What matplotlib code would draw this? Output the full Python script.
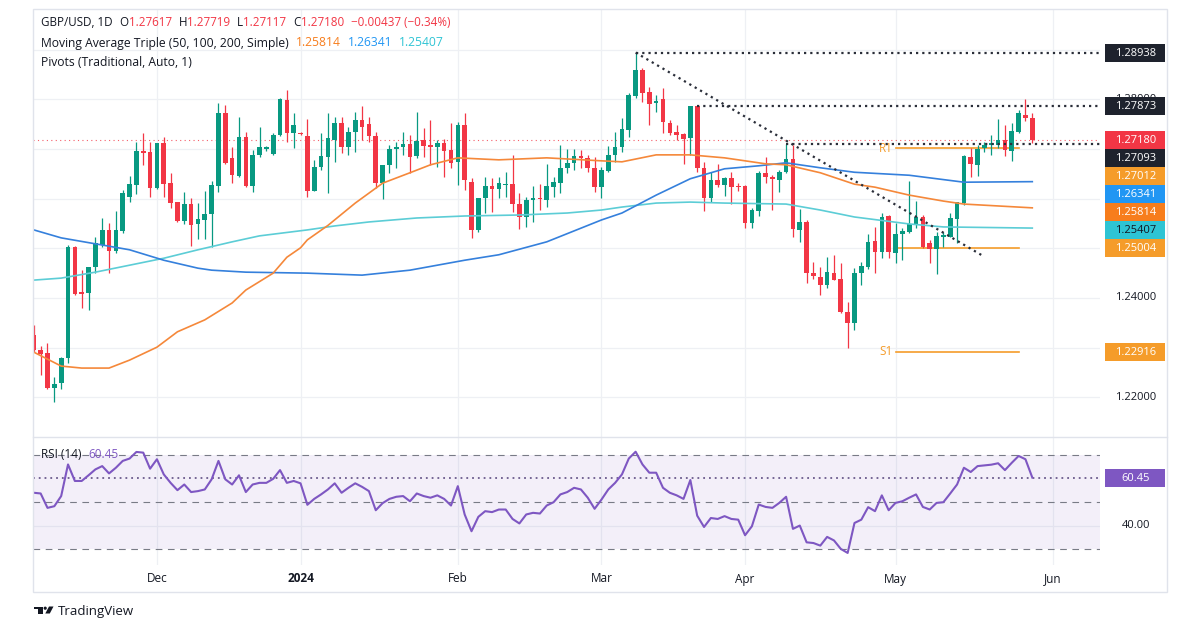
import matplotlib
matplotlib.use("Agg")
import matplotlib.pyplot as plt
from matplotlib.patches import Rectangle, Polygon, Ellipse
from matplotlib.transforms import blended_transform_factory as blend
import numpy as np
import pandas as pd

plt.rcParams['font.family'] = ['Open Sans', 'DejaVu Sans']

# ---------------------------------------------------------------- data
dates = pd.bdate_range("2023-11-07", "2024-05-29")   # 147 daily bars

opens = [1.2325, 1.2295, 1.2289, 1.2219, 1.2229, 1.2279, 1.2503, 1.2412, 1.2410, 1.2463,
         1.2507, 1.2537, 1.2495, 1.2535, 1.2603, 1.2627, 1.2696, 1.2694, 1.2621, 1.2712,
         1.2631, 1.2593, 1.2555, 1.2589, 1.2549, 1.2557, 1.2569, 1.2625, 1.2772, 1.2682,
         1.2645, 1.2724, 1.2625, 1.2688, 1.2700, 1.2690, 1.2728, 1.2798, 1.2732, 1.2732,
         1.2726, 1.2615, 1.2664, 1.2684, 1.2718, 1.2752, 1.2704, 1.2734, 1.2758, 1.2750,
         1.2726, 1.2631, 1.2668, 1.2700, 1.2704, 1.2710, 1.2686, 1.2718, 1.2708, 1.2704,
         1.2712, 1.2698, 1.2674, 1.2748, 1.2633, 1.2537, 1.2601, 1.2625, 1.2619, 1.2627,
         1.2629, 1.2589, 1.2563, 1.2597, 1.2601, 1.2597, 1.2623, 1.2631, 1.2662, 1.2672,
         1.2686, 1.2682, 1.2662, 1.2623, 1.2656, 1.2688, 1.2704, 1.2738, 1.2806, 1.2858,
         1.2814, 1.2792, 1.2800, 1.2752, 1.2734, 1.2730, 1.2722, 1.2786, 1.2662, 1.2601,
         1.2637, 1.2627, 1.2641, 1.2625, 1.2625, 1.2551, 1.2575, 1.2651, 1.2643, 1.2637,
         1.2654, 1.2680, 1.2537, 1.2553, 1.2450, 1.2442, 1.2426, 1.2450, 1.2438, 1.2372,
         1.2349, 1.2450, 1.2463, 1.2515, 1.2493, 1.2565, 1.2491, 1.2529, 1.2533, 1.2547,
         1.2563, 1.2511, 1.2499, 1.2523, 1.2523, 1.2559, 1.2591, 1.2684, 1.2668, 1.2702,
         1.2708, 1.2708, 1.2718, 1.2696, 1.2734, 1.2768, 1.27617]
highs = [1.2345, 1.2303, 1.2309, 1.2241, 1.2281, 1.2507, 1.2505, 1.2457, 1.2463, 1.2523,
         1.2561, 1.2551, 1.2575, 1.2617, 1.2645, 1.2714, 1.2732, 1.2714, 1.2712, 1.2724,
         1.2651, 1.2593, 1.2613, 1.2601, 1.2591, 1.2615, 1.2635, 1.2792, 1.2788, 1.2704,
         1.2764, 1.2734, 1.2698, 1.2744, 1.2706, 1.2732, 1.2802, 1.2818, 1.2772, 1.2734,
         1.2760, 1.2678, 1.2732, 1.2772, 1.2764, 1.2764, 1.2744, 1.2774, 1.2786, 1.2764,
         1.2734, 1.2668, 1.2708, 1.2714, 1.2734, 1.2728, 1.2774, 1.2742, 1.2758, 1.2718,
         1.2720, 1.2752, 1.2754, 1.2772, 1.2641, 1.2601, 1.2643, 1.2641, 1.2643, 1.2654,
         1.2688, 1.2611, 1.2603, 1.2625, 1.2629, 1.2670, 1.2643, 1.2708, 1.2700, 1.2700,
         1.2698, 1.2688, 1.2684, 1.2664, 1.2706, 1.2734, 1.2762, 1.2812, 1.28938, 1.2862,
         1.2824, 1.2808, 1.2822, 1.2758, 1.2748, 1.2732, 1.2786, 1.27873, 1.2674, 1.2654,
         1.2670, 1.2643, 1.2654, 1.2631, 1.2627, 1.2581, 1.2656, 1.2684, 1.2647, 1.2658,
         1.27093, 1.2708, 1.2579, 1.2557, 1.2473, 1.2463, 1.2483, 1.2487, 1.2471, 1.2392,
         1.2461, 1.2473, 1.2529, 1.2543, 1.2571, 1.2568, 1.2551, 1.2541, 1.2635, 1.2595,
         1.2567, 1.2517, 1.2533, 1.2533, 1.2571, 1.2593, 1.2688, 1.2702, 1.2708, 1.2714,
         1.2728, 1.2760, 1.2748, 1.2752, 1.2778, 1.2800, 1.27719]
lows = [1.2291, 1.2245, 1.2217, 1.2191, 1.2217, 1.2269, 1.2406, 1.2380, 1.2376, 1.2450,
        1.2503, 1.2450, 1.2491, 1.2531, 1.2593, 1.2609, 1.2668, 1.2603, 1.2619, 1.2603,
        1.2581, 1.2553, 1.2549, 1.2505, 1.2519, 1.2519, 1.2503, 1.2613, 1.2670, 1.2631,
        1.2643, 1.2623, 1.2613, 1.2684, 1.2696, 1.2688, 1.2726, 1.2714, 1.2702, 1.2728,
        1.2603, 1.2615, 1.2658, 1.2611, 1.2674, 1.2692, 1.2688, 1.2694, 1.2718, 1.2714,
        1.2621, 1.2599, 1.2651, 1.2662, 1.2688, 1.2651, 1.2682, 1.2684, 1.2668, 1.2664,
        1.2643, 1.2662, 1.2627, 1.2617, 1.2521, 1.2533, 1.2571, 1.2573, 1.2601, 1.2603,
        1.2573, 1.2539, 1.2543, 1.2553, 1.2577, 1.2583, 1.2603, 1.2611, 1.2651, 1.2658,
        1.2662, 1.2654, 1.2613, 1.2601, 1.2654, 1.2674, 1.2694, 1.2724, 1.2802, 1.2794,
        1.2748, 1.2774, 1.2732, 1.2728, 1.2718, 1.2670, 1.2688, 1.2654, 1.2575, 1.2593,
        1.2623, 1.2605, 1.2589, 1.2615, 1.2541, 1.2541, 1.2565, 1.2631, 1.2577, 1.2613,
        1.2651, 1.2523, 1.2513, 1.2430, 1.2438, 1.2406, 1.2420, 1.2436, 1.2370, 1.2300,
        1.2335, 1.2426, 1.2459, 1.2450, 1.2481, 1.2481, 1.2471, 1.2477, 1.2531, 1.2541,
        1.2500, 1.2471, 1.2448, 1.2503, 1.2523, 1.2511, 1.2587, 1.2643, 1.2645, 1.2694,
        1.2688, 1.2702, 1.2686, 1.2676, 1.2732, 1.2756, 1.27117]
closes = [1.2295, 1.2287, 1.2219, 1.2227, 1.2279, 1.2503, 1.2408, 1.2408, 1.2463, 1.2511,
          1.2537, 1.2495, 1.2537, 1.2611, 1.2629, 1.2696, 1.2692, 1.2621, 1.2712, 1.2629,
          1.2591, 1.2555, 1.2589, 1.2547, 1.2559, 1.2569, 1.2627, 1.2772, 1.2672, 1.2647,
          1.2724, 1.2625, 1.2688, 1.2704, 1.2704, 1.2728, 1.2800, 1.2732, 1.2748, 1.2730,
          1.2615, 1.2664, 1.2686, 1.2722, 1.2752, 1.2704, 1.2734, 1.2758, 1.2744, 1.2726,
          1.2631, 1.2668, 1.2700, 1.2704, 1.2710, 1.2684, 1.2716, 1.2706, 1.2704, 1.2712,
          1.2696, 1.2672, 1.2748, 1.2637, 1.2537, 1.2601, 1.2625, 1.2619, 1.2631, 1.2629,
          1.2589, 1.2563, 1.2597, 1.2601, 1.2599, 1.2625, 1.2633, 1.2662, 1.2672, 1.2686,
          1.2682, 1.2662, 1.2623, 1.2658, 1.2688, 1.2704, 1.2740, 1.2808, 1.2858, 1.2812,
          1.2790, 1.2796, 1.2754, 1.2732, 1.2728, 1.2720, 1.2786, 1.2662, 1.2601, 1.2637,
          1.2627, 1.2641, 1.2623, 1.2623, 1.2551, 1.2577, 1.2651, 1.2643, 1.2639, 1.2654,
          1.2680, 1.2539, 1.2553, 1.2450, 1.2444, 1.2426, 1.2453, 1.2436, 1.2372, 1.2349,
          1.2450, 1.2465, 1.2513, 1.2493, 1.2563, 1.2493, 1.2529, 1.2535, 1.2549, 1.2563,
          1.2503, 1.2499, 1.2525, 1.2527, 1.2561, 1.2593, 1.2686, 1.2670, 1.2700, 1.2708,
          1.2712, 1.2718, 1.2698, 1.2736, 1.2772, 1.2762, 1.27180]

rsi_values = [54.0, 53.7, 47.6, 48.3, 52.6, 66.0, 59.0, 59.0, 61.4, 63.9,
              65.3, 62.2, 64.6, 67.5, 68.5, 71.3, 71.0, 64.2, 68.2, 61.8,
              58.2, 55.1, 57.5, 54.3, 54.7, 55.4, 59.7, 67.5, 59.7, 57.5,
              61.4, 54.3, 57.5, 58.2, 58.2, 59.9, 63.6, 58.2, 59.0, 58.0,
              48.9, 51.4, 53.3, 55.4, 58.0, 54.0, 56.1, 58.0, 56.5, 54.7,
              46.6, 49.6, 51.4, 52.3, 52.6, 50.4, 53.7, 52.6, 51.9, 52.9,
              51.4, 48.6, 56.8, 44.8, 37.7, 43.8, 46.2, 45.8, 46.9, 46.9,
              42.9, 41.0, 44.8, 45.5, 45.2, 48.6, 50.0, 53.3, 54.3, 56.1,
              55.4, 51.9, 47.2, 51.1, 55.4, 58.2, 61.8, 68.5, 71.4, 66.0,
              62.5, 62.5, 56.1, 54.0, 52.9, 51.4, 59.4, 44.3, 39.5, 43.3,
              42.9, 44.1, 42.9, 42.6, 36.0, 39.8, 49.0, 48.0, 47.6, 49.7,
              52.3, 38.7, 40.1, 33.0, 32.7, 31.6, 35.3, 33.8, 30.2, 28.5,
              41.2, 42.6, 47.9, 46.2, 52.9, 46.6, 49.7, 50.4, 51.9, 53.3,
              48.0, 46.9, 49.7, 50.0, 53.7, 57.5, 64.6, 62.8, 65.3, 65.6,
              65.9, 66.5, 63.6, 66.7, 69.6, 68.2, 60.45]

# moving averages at sample bars
sma50_bars = [0, 4, 7, 11, 14, 18, 21, 25, 29, 31, 35, 37, 39, 40, 43, 47, 51, 55, 58, 62,
              68, 75, 83, 86, 91, 96, 101, 107, 110, 115, 120, 123, 128, 133, 136, 146]
sma50_vals = [1.2291, 1.2263, 1.2259, 1.2259, 1.2275, 1.2301, 1.2332, 1.2356, 1.2390, 1.2416,
              1.2450, 1.2482, 1.2501, 1.2517, 1.2546, 1.2591, 1.2631, 1.2652, 1.2668, 1.2682,
              1.2678, 1.2682, 1.2676, 1.2674, 1.2688, 1.2688, 1.2682, 1.2670, 1.2668, 1.2652,
              1.2629, 1.2623, 1.2607, 1.2595, 1.2589, 1.25814]
sma100_bars = [0, 4, 9, 14, 19, 24, 26, 31, 40, 48, 55, 63, 68, 75, 83, 86, 91, 96, 101,
               106, 110, 115, 120, 128, 136, 146]
sma100_vals = [1.2537, 1.2521, 1.2509, 1.2497, 1.2476, 1.2460, 1.2456, 1.2452, 1.2450, 1.2446,
               1.2456, 1.2476, 1.2487, 1.2513, 1.2557, 1.2571, 1.2607, 1.2640, 1.2660,
               1.2666, 1.2672, 1.2662, 1.2653, 1.2647, 1.2633, 1.26341]
sma200_bars = [0, 4, 9, 14, 19, 24, 29, 33, 40, 44, 49, 56, 63, 71, 78, 83, 86, 91, 96,
               101, 110, 115, 120, 128, 133, 146]
sma200_vals = [1.2436, 1.2440, 1.2452, 1.2466, 1.2480, 1.2497, 1.2513, 1.2525, 1.2537, 1.2545,
               1.2553, 1.2561, 1.2565, 1.2567, 1.2571, 1.2577, 1.2583, 1.2591, 1.2593,
               1.2591, 1.2589, 1.2577, 1.2563, 1.2549, 1.2543, 1.25407]

trend_bars = [88, 139]
trend_vals = [1.28938, 1.2483]
level_vals = [1.28938, 1.27873, 1.27093]
level_start = [88, 97, 110]
pivot_names = ["R1", "P", "S1"]
pivot_vals = [1.27012, 1.25004, 1.22916]
pivot_span = [126, 144]

header_ohlc = ["1.27617", "1.27719", "1.27117", "1.27180"]
header_change = "\u22120.00437 (\u22120.34%)"
ma_last = [1.25814, 1.26341, 1.25407]
rsi_last = 60.45
last_close = 1.27180
month_labels = ["Dec", "2024", "Feb", "Mar", "Apr", "May", "Jun"]
price_grid = [1.22, 1.23, 1.24, 1.25, 1.26, 1.27, 1.28, 1.29]
price_labels = [1.22, 1.24, 1.28]       # the other scale labels sit under badges
rsi_labels = [40]

# ---------------------------------------------------------------- style
W, H = 1200, 630
GREEN, RED, DARK = "#089981", "#f23645", "#131722"
GRID = "#eef0f4"
C50, C100, C200 = "#f5883a", "#3580dc", "#5ccdd6"
B50, B100, B200 = "#f77d1c", "#2196f3", "#2ec4d4"
PIV = "#f59c2a"
PURPLE = "#7e57c2"
BADGE_DARK = "#1e222d"
DOTS = "#2a2e39"


def fx(x):
    return x / W


def fy(y):
    return 1 - y / H


fig = plt.figure(figsize=(12, 6.3), dpi=100)
fig.patch.set_facecolor("white")

ax = fig.add_axes([fx(33), fy(437), (1100 - 33) / W, (437 - 10) / H])
axr = fig.add_axes([fx(33), fy(565), (1100 - 33) / W, (565 - 437) / H])
XMIN, XMAX = -0.12, 155.9
ax.set_xlim(XMIN, XMAX)
ax.set_ylim(1.21203, 1.29795)
axr.set_xlim(XMIN, XMAX)
axr.set_ylim(23.39, 77.63)
ax.axis("off")
axr.axis("off")

# month grid
axis_days = pd.bdate_range(dates[0], "2024-06-28")
month_pos = [k for k in range(1, len(axis_days)) if axis_days[k].month != axis_days[k - 1].month][:len(month_labels)]
for m in month_pos:
    ax.axvline(m, color=GRID, lw=0.9, zorder=0)
    axr.axvline(m, color=GRID, lw=0.9, zorder=0)
for p in price_grid:
    ax.axhline(p, color=GRID, lw=0.9, zorder=0)
axr.axhline(40, color=GRID, lw=0.9, zorder=0)

# candles
x = np.arange(len(dates))
o, h, l, c = (np.array(v) for v in (opens, highs, lows, closes))
cols = np.where(c >= o, GREEN, RED)
ax.vlines(x, l, h, colors=cols, lw=0.9, zorder=4)
ax.bar(x, np.maximum(np.abs(c - o), 0.0002), bottom=np.minimum(o, c), width=0.68,
       color=cols, lw=0, zorder=5)

# moving averages
ax.plot(sma200_bars, sma200_vals, color=C200, lw=1.2, zorder=6)
ax.plot(sma100_bars, sma100_vals, color=C100, lw=1.2, zorder=6)
ax.plot(sma50_bars, sma50_vals, color=C50, lw=1.2, zorder=6)

# current price line
ax.plot([XMIN, XMAX], [last_close, last_close], color=RED, lw=0.8, ls=(0, (1, 3)), alpha=0.8, zorder=3)

# drawn levels and trendline
for v, s in zip(level_vals, level_start):
    ax.plot([s, XMAX], [v, v], color=DOTS, lw=1.6, ls=(0, (1, 1.8)), zorder=7)
ax.plot(trend_bars, trend_vals, color=DOTS, lw=1.6, ls=(0, (1, 1.8)), zorder=7)

# pivots
for name, v in zip(pivot_names, pivot_vals):
    ax.plot(pivot_span, [v, v], color=PIV, lw=1.2, zorder=3)
    if name != "P":
        ax.text(pivot_span[0] - 0.35, v, name, color=PIV, fontsize=8.5, ha="right", va="center", zorder=3)

# RSI
axr.axhspan(30, 70, color=PURPLE, alpha=0.09, lw=0, zorder=0)
for lvl in (70, 50, 30):
    axr.axhline(lvl, color="#787b86", lw=0.8, ls=(0, (6, 5)), zorder=1)
axr.plot([XMIN, XMAX], [rsi_last, rsi_last], color="#6a5a8c", lw=1.3, ls=(0, (1, 2.2)), zorder=2)
axr.plot(x, rsi_values, color=PURPLE, lw=1.5, zorder=3)

# price-scale labels (under the badges)
tr_price = blend(fig.transFigure, ax.transData)
for p in price_labels:
    ax.text(fx(1136), p, f"{p:.5f}", transform=tr_price, ha="center", va="center",
            fontsize=8, color=DARK, clip_on=False)
tr_rsi = blend(fig.transFigure, axr.transData)
for r in rsi_labels:
    axr.text(fx(1136), r, f"{r:.2f}", transform=tr_rsi, ha="center", va="center",
             fontsize=8, color=DARK, clip_on=False)

# badges on the price scale
fig.canvas.draw()


def px_from_top(axes, val):
    return H - axes.transData.transform((0, val))[1]


badges = [
    (1.28938, BADGE_DARK, "white"),
    (1.27873, BADGE_DARK, "white"),
    (last_close, RED, "white"),
    (level_vals[2], BADGE_DARK, "white"),
    (pivot_vals[0], PIV, "white"),
    (ma_last[1], B100, "white"),
    (ma_last[0], B50, "white"),
    (ma_last[2], B200, DARK),
    (pivot_vals[1], PIV, "white"),
    (pivot_vals[2], PIV, "white"),
]
badges.sort(key=lambda b: -b[0])
prev = None
BH = 18
for val, fc, tc in badges:
    yc = px_from_top(ax, val)
    if prev is not None and yc < prev + BH:
        yc = prev + BH
    prev = yc
    fig.add_artist(Rectangle((fx(1105), fy(yc + BH / 2)), 60 / W, BH / H,
                             transform=fig.transFigure, facecolor=fc, edgecolor="none", zorder=5))
    fig.text(fx(1136), fy(yc + 0.5), f"{val:.5f}", color=tc, fontsize=8, ha="center", va="center", zorder=6)

yr = px_from_top(axr, rsi_last)
fig.add_artist(Rectangle((fx(1105), fy(yr + BH / 2)), 60 / W, BH / H, transform=fig.transFigure,
                         facecolor=PURPLE, edgecolor="none", zorder=5))
fig.text(fx(1136), fy(yr + 0.5), f"{rsi_last:.2f}", color="white", fontsize=8, ha="center", va="center", zorder=6)

# date labels
tr_date = blend(axr.transData, fig.transFigure)
for m, lab in zip(month_pos, month_labels):
    axr.text(m, fy(579), lab, transform=tr_date, ha="center", va="center", fontsize=8.5,
             color=DARK, fontweight="bold" if lab.isdigit() else "normal", clip_on=False)

# legend / header lines
renderer = fig.canvas.get_renderer()


def seg_line(x0, y0, segs, fs=8.7):
    xx = x0
    for txt, color, gap in segs:
        xx += gap
        t = fig.text(fx(xx), fy(y0), txt, color=color, fontsize=fs, ha="left", va="center", zorder=6)
        xx += t.get_window_extent(renderer).width


seg_line(41, 23, [("GBP/USD, 1D", DARK, 0),
                  ("O", DARK, 7), (header_ohlc[0], RED, 0),
                  ("H", DARK, 7), (header_ohlc[1], RED, 0),
                  ("L", DARK, 7), (header_ohlc[2], RED, 0),
                  ("C", DARK, 7), (header_ohlc[3], RED, 0),
                  (header_change, RED, 7)], fs=8.4)
seg_line(41, 43, [("Moving Average Triple (50, 100, 200, Simple)", DARK, 0),
                  (f"{ma_last[0]:.5f}", B50, 7),
                  (f"{ma_last[1]:.5f}", B100, 7),
                  (f"{ma_last[2]:.5f}", B200, 7)])
seg_line(41, 62, [("Pivots (Traditional, Auto, 1)", DARK, 0)])
seg_line(41, 455, [("RSI (14)", DARK, 0), (f"{rsi_last:.2f}", PURPLE, 7)], fs=8.5)

# frame and pane separator
fig.add_artist(Rectangle((fx(33), fy(592)), (1167 - 33) / W, (592 - 9) / H, transform=fig.transFigure,
                         facecolor="none", edgecolor="#e0e3eb", lw=1, zorder=8))
fig.add_artist(plt.Line2D([fx(33), fx(1167)], [fy(437), fy(437)], transform=fig.transFigure,
                          color="#e0e3eb", lw=1, zorder=8))

# TradingView logo
logo = DARK
fig.add_artist(Polygon([(fx(33.5), fy(606.5)), (fx(42.5), fy(606.5)), (fx(42.5), fy(613.5)),
                        (fx(38.3), fy(613.5)), (fx(38.3), fy(609.3)), (fx(33.5), fy(609.3))],
                       closed=True, transform=fig.transFigure, facecolor=logo, edgecolor="none"))
fig.add_artist(Ellipse((fx(45.2), fy(608.2)), 3.2 / W, 3.2 / H, transform=fig.transFigure,
                       facecolor=logo, edgecolor="none"))
fig.add_artist(Polygon([(fx(49.0), fy(606.5)), (fx(53.5), fy(606.5)), (fx(49.8), fy(613.5)),
                        (fx(45.3), fy(613.5))],
                       closed=True, transform=fig.transFigure, facecolor=logo, edgecolor="none"))
fig.text(fx(58), fy(611), "TradingView", fontsize=9.5, color=DARK, ha="left", va="center")

fig.savefig("out.png", dpi=100, facecolor="white")
